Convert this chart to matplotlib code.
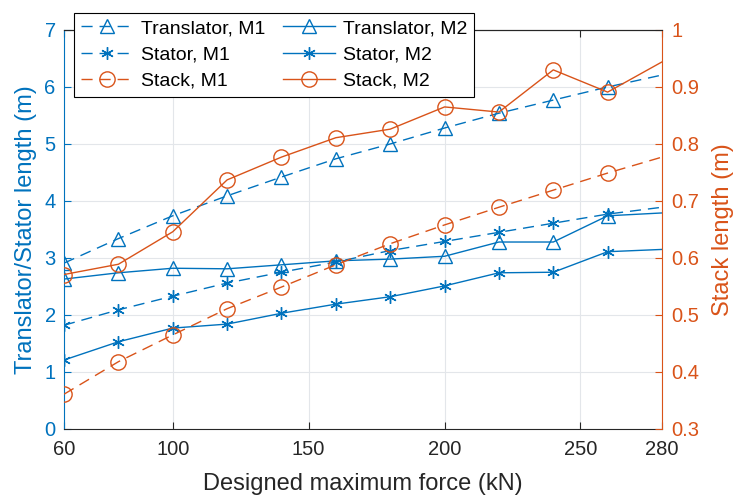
import matplotlib

matplotlib.use("Agg")
import matplotlib.pyplot as plt

plt.rcParams["font.family"] = ["Liberation Sans", "DejaVu Sans"]

BLUE = "#0072BD"
ORANGE = "#D95319"
DARK = "#262626"

# 力 (kN)：最后一点在 280 之外，只露出到坐标轴边界的一段线
force = [60, 80, 100, 120, 140, 160, 180, 200, 220, 240, 260, 300]

translator_m1 = [2.91, 3.34, 3.74, 4.09, 4.42, 4.74, 5.00, 5.28, 5.54, 5.77, 6.00, 6.42]
translator_m2 = [2.63, 2.74, 2.82, 2.81, 2.88, 2.95, 2.98, 3.03, 3.28, 3.28, 3.74, 3.84]
stator_m1 = [1.82, 2.09, 2.33, 2.56, 2.75, 2.93, 3.13, 3.29, 3.45, 3.61, 3.77, 4.01]
stator_m2 = [1.21, 1.53, 1.77, 1.84, 2.03, 2.19, 2.32, 2.51, 2.74, 2.75, 3.11, 3.19]
stack_m1 = [0.361, 0.418, 0.465, 0.511, 0.549, 0.588, 0.625, 0.658, 0.689, 0.719, 0.749, 0.805]
stack_m2 = [0.571, 0.589, 0.646, 0.737, 0.777, 0.811, 0.826, 0.865, 0.856, 0.930, 0.891, 0.997]

x_ticks = [60, 100, 150, 200, 250, 280]
left_ticks = [0, 1, 2, 3, 4, 5, 6, 7]
right_ticks = [0.3, 0.4, 0.5, 0.6, 0.7, 0.8, 0.9, 1.0]
right_tick_labels = ["0.3", "0.4", "0.5", "0.6", "0.7", "0.8", "0.9", "1"]

DASH = (0, (8, 5))
TICK_FONT = 14.5
LABEL_FONT = 17

fig = plt.figure(figsize=(7.35, 4.98), dpi=100)
ax = fig.add_axes([0.0871, 0.1386, 0.8136, 0.8012])
ax2 = ax.twinx()

common = dict(linewidth=1.0, markerfacecolor="none", markeredgewidth=1.0)

h1, = ax.plot(force, translator_m1, color=BLUE, linestyle=DASH, marker="^", markersize=10, label="Translator, M1", **common)
h2, = ax.plot(force, stator_m1, color=BLUE, linestyle=DASH, marker=(6, 2, 0), markersize=9, label="Stator, M1", **common)
h4, = ax.plot(force, translator_m2, color=BLUE, linestyle="-", marker="^", markersize=10, label="Translator, M2", **common)
h5, = ax.plot(force, stator_m2, color=BLUE, linestyle="-", marker=(6, 2, 0), markersize=9, label="Stator, M2", **common)
h3, = ax2.plot(force, stack_m1, color=ORANGE, linestyle=DASH, marker="o", markersize=11, label="Stack, M1", **common)
h6, = ax2.plot(force, stack_m2, color=ORANGE, linestyle="-", marker="o", markersize=11, label="Stack, M2", **common)

ax.set_xlim(60, 280)
ax.set_ylim(0, 7)
ax2.set_ylim(0.3, 1.0)

ax.set_xticks(x_ticks)
ax.set_yticks(left_ticks)
ax2.set_yticks(right_ticks)
ax2.set_yticklabels(right_tick_labels)

ax.grid(True, color="#e3e6ea", linewidth=0.8)
ax.set_axisbelow(True)

ax.tick_params(axis="x", direction="in", colors=DARK, labelsize=TICK_FONT, top=True, length=5, pad=8)
ax.tick_params(axis="y", direction="in", colors=BLUE, labelsize=TICK_FONT, length=5, pad=6)
ax2.tick_params(axis="y", direction="in", colors=ORANGE, labelsize=TICK_FONT, length=5, pad=7)

ax.spines["left"].set_color(BLUE)
ax.spines["bottom"].set_color(DARK)
ax.spines["top"].set_color(DARK)
ax.spines["right"].set_visible(False)
ax2.spines["left"].set_visible(False)
ax2.spines["right"].set_color(ORANGE)
ax2.spines["top"].set_color(DARK)
ax2.spines["bottom"].set_visible(False)

ax.set_xlabel("Designed maximum force (kN)", fontsize=LABEL_FONT, color=DARK, labelpad=10)
ax.set_ylabel("Translator/Stator length (m)", fontsize=LABEL_FONT, color=BLUE, labelpad=5)
ax2.set_ylabel("Stack length (m)", fontsize=LABEL_FONT, color=ORANGE, labelpad=9)

leg = ax2.legend(
    handles=[h1, h2, h3, h4, h5, h6],
    ncol=2,
    loc="upper left",
    bbox_to_anchor=(0.0167, 1.043),
    borderaxespad=0,
    fontsize=14,
    frameon=True,
    fancybox=False,
    framealpha=1,
    edgecolor="black",
    handlelength=2.7,
    columnspacing=0.9,
    labelspacing=0.45,
    borderpad=0.35,
    handletextpad=0.4,
)
leg.get_frame().set_linewidth(0.8)

fig.savefig("out.png", dpi=100)
